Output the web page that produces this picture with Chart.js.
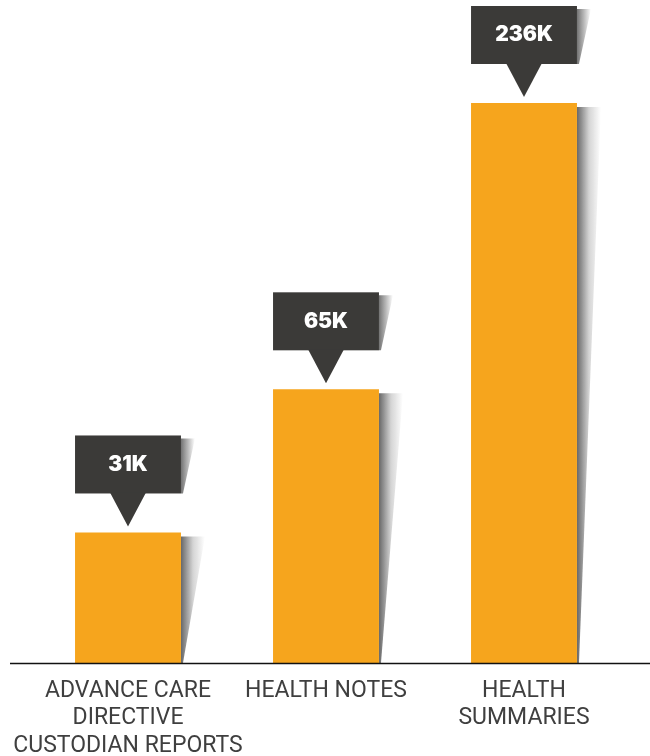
<!DOCTYPE html>
<html>
<head>
<meta charset="utf-8">
<script src="https://cdn.jsdelivr.net/npm/chart.js@4"></script>
<style>
  html, body { margin: 0; padding: 0; background: #fff; }
  #wrap { width: 650px; height: 756px; }
</style>
</head>
<body>
<div id="wrap"><canvas id="chart" width="650" height="756"></canvas></div>
<script>
/* ================================
   Data
================================ */
const categories = [
  ["ADVANCE CARE", "DIRECTIVE", "CUSTODIAN REPORTS"],
  "HEALTH NOTES",
  ["HEALTH", "SUMMARIES"]
];
const counts = [31, 65, 236];          // thousands
const calloutLabels = ["31K", "65K", "236K"];
const axisCap = 133;                   // tallest bar is cut off at this value

const ORANGE = "#F6A51D";
const DARK = "#3B3A38";

/* ================================
   Plugins
================================ */
const shadowPlugin = {
  id: "shadows",
  beforeDatasetsDraw(chart) {
    const ctx = chart.ctx;
    const meta = chart.getDatasetMeta(0);
    const area = chart.chartArea;
    ctx.save();
    meta.data.forEach(bar => {
      const right = bar.x + bar.width / 2;
      const top = Math.max(bar.y, area.top);
      const bottom = bar.base;
      const g = ctx.createLinearGradient(right, 0, right + 24, 0);
      g.addColorStop(0, "rgba(40,40,40,0.7)");
      g.addColorStop(0.5, "rgba(40,40,40,0.2)");
      g.addColorStop(1, "rgba(40,40,40,0)");
      ctx.fillStyle = g;
      ctx.beginPath();
      ctx.moveTo(right, top + 4);
      ctx.lineTo(right + 24, top + 4);
      ctx.lineTo(right + 2, bottom);
      ctx.lineTo(right, bottom);
      ctx.closePath();
      ctx.fill();
    });
    ctx.restore();
  }
};

const calloutPlugin = {
  id: "callouts",
  afterDatasetsDraw(chart) {
    const ctx = chart.ctx;
    const meta = chart.getDatasetMeta(0);
    const area = chart.chartArea;
    ctx.save();
    meta.data.forEach((bar, i) => {
      const top = Math.max(bar.y, area.top);
      const left = bar.x - bar.width / 2;
      const right = bar.x + bar.width / 2;
      const tipY = top - 6;
      const boxBottom = tipY - 33;
      const boxTop = boxBottom - 58;

      // shadow on the right of the box
      const g = ctx.createLinearGradient(right, 0, right + 14, 0);
      g.addColorStop(0, "rgba(40,40,40,0.65)");
      g.addColorStop(1, "rgba(40,40,40,0)");
      ctx.fillStyle = g;
      ctx.beginPath();
      ctx.moveTo(right, boxTop + 3);
      ctx.lineTo(right + 14, boxTop + 3);
      ctx.lineTo(right + 2, boxBottom);
      ctx.lineTo(right, boxBottom);
      ctx.closePath();
      ctx.fill();

      // box + pointer
      ctx.fillStyle = DARK;
      ctx.fillRect(left, boxTop, right - left, boxBottom - boxTop);
      ctx.beginPath();
      ctx.moveTo(bar.x - 18, boxBottom - 1);
      ctx.lineTo(bar.x + 18, boxBottom - 1);
      ctx.lineTo(bar.x, tipY);
      ctx.closePath();
      ctx.fill();

      ctx.fillStyle = "#fff";
      ctx.font = "900 21px Inter";
      ctx.textAlign = "center";
      ctx.textBaseline = "middle";
      ctx.fillText(calloutLabels[i], bar.x, (boxTop + boxBottom) / 2);
    });
    ctx.restore();
  }
};

const baselinePlugin = {
  id: "baseline",
  afterDatasetsDraw(chart) {
    const ctx = chart.ctx;
    const y = chart.scales.y.getPixelForValue(0);
    ctx.save();
    ctx.strokeStyle = "#111";
    ctx.lineWidth = 1.5;
    ctx.beginPath();
    ctx.moveTo(10, y + 0.5);
    ctx.lineTo(chart.width, y + 0.5);
    ctx.stroke();
    ctx.restore();
  }
};

/* ================================
   Chart
================================ */
new Chart(document.getElementById("chart"), {
  type: "bar",
  data: {
    labels: categories,
    datasets: [{
      data: counts,
      backgroundColor: ORANGE,
      borderWidth: 0,
      categoryPercentage: 1,
      barPercentage: 0.535
    }]
  },
  options: {
    responsive: false,
    animation: false,
    layout: { padding: { top: 103, left: 29, right: 27, bottom: 0 } },
    plugins: {
      legend: { display: false },
      tooltip: { enabled: false }
    },
    scales: {
      y: {
        display: false,
        min: 0,
        max: axisCap
      },
      x: {
        grid: { display: false, drawTicks: false },
        border: { display: false },
        afterFit(scale) {
          scale.height = 93;
          scale.paddingLeft = 0;
          scale.paddingRight = 0;
        },
        ticks: {
          autoSkip: false,
          maxRotation: 0,
          padding: 15,
          color: "#3f3f3f",
          font: { family: "Roboto", size: 23, lineHeight: 1.18 }
        }
      }
    }
  },
  plugins: [shadowPlugin, calloutPlugin, baselinePlugin]
});
</script>
</body>
</html>
